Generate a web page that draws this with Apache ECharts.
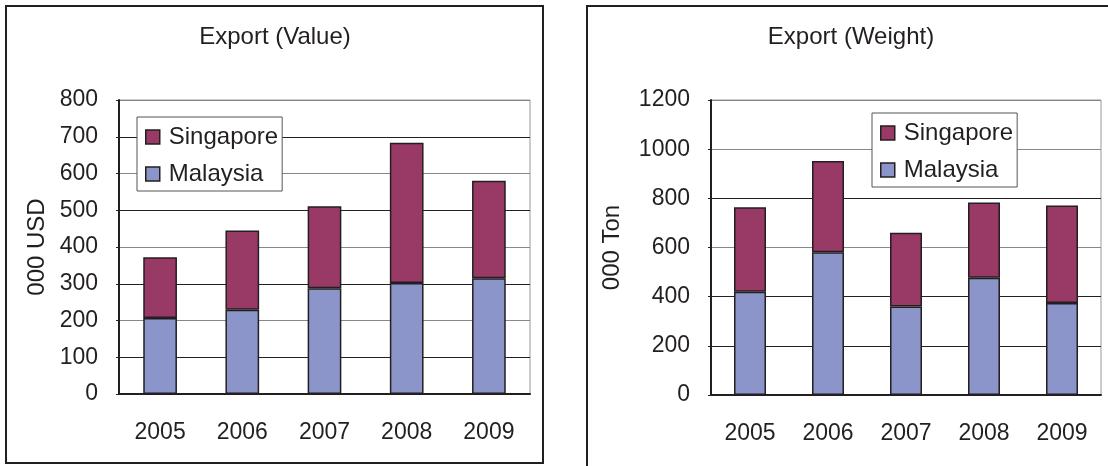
<!DOCTYPE html>
<html>
<head>
<meta charset="utf-8">
<script src="https://cdn.jsdelivr.net/npm/echarts@6/dist/echarts.min.js"></script>
<style>
  html, body { margin: 0; padding: 0; background: #fff; }
  #chart { width: 1108px; height: 466px; }
</style>
</head>
<body>
<div id="chart"></div>
<script>
const years = ['2005', '2006', '2007', '2008', '2009']

// Export (Value), 000 USD
const valueMalaysia = [207, 229, 288, 302, 315]
const valueSingapore = [165, 216, 223, 382, 265]

// Export (Weight), 000 Ton
const weightMalaysia = [420, 581, 360, 477, 374]
const weightSingapore = [344, 371, 300, 306, 397]

const ink = '#231f20'
const font = 'Liberation Sans, Arial, sans-serif'
const colSingapore = '#993966'
const colMalaysia = '#8c95c9'

const chart = echarts.init(document.getElementById('chart'), null, { renderer: 'canvas' })

function xAxisFor(idx) {
  return {
    type: 'category',
    gridIndex: idx,
    data: years,
    axisLine: { lineStyle: { color: ink, width: 2 } },
    axisTick: { inside: true, length: 7, lineStyle: { color: ink } },
    axisLabel: { color: ink, fontSize: 23, fontFamily: font, margin: 27 }
  }
}

function yAxisFor(idx, max, interval, name, nameGap, gridColors) {
  return {
    type: 'value',
    gridIndex: idx,
    min: 0,
    max: max,
    interval: interval,
    name: name,
    nameLocation: 'middle',
    nameGap: nameGap,
    nameTextStyle: { color: ink, fontSize: 24, fontFamily: font },
    axisLine: { show: true, lineStyle: { color: ink, width: 2 } },
    axisTick: { show: true, length: 3, lineStyle: { color: ink } },
    axisLabel: { color: ink, fontSize: 23, fontFamily: font, margin: 21, formatter: v => String(v) },
    splitLine: { lineStyle: { color: gridColors, width: 1 } }
  }
}

function barSeries(name, data, idx, color) {
  return {
    name: name,
    type: 'bar',
    stack: 'total' + idx,
    xAxisIndex: idx,
    yAxisIndex: idx,
    data: data,
    barWidth: '41%',
    itemStyle: { color: color, borderColor: ink, borderWidth: 1.5 }
  }
}

function legendAt(left, top) {
  return {
    orient: 'vertical',
    left: left,
    top: top,
    data: ['Singapore', 'Malaysia'],
    icon: 'rect',
    itemWidth: 14,
    itemHeight: 14,
    itemGap: 13,
    padding: [8, 4, 5, 8],
    backgroundColor: '#fff',
    borderColor: '#555',
    borderWidth: 1,
    itemStyle: { borderColor: ink, borderWidth: 1.5 },
    textStyle: { color: ink, fontSize: 24, fontFamily: font, padding: [0, 0, 0, 4] }
  }
}

chart.setOption({
  animation: false,
  title: [
    { text: 'Export (Value)', left: 270, top: 20, textAlign: 'center',
      textStyle: { color: ink, fontSize: 24, fontWeight: 'normal', fontFamily: font } },
    { text: 'Export (Weight)', left: 846, top: 20, textAlign: 'center',
      textStyle: { color: ink, fontSize: 24, fontWeight: 'normal', fontFamily: font } }
  ],
  legend: [legendAt(137, 117), legendAt(872, 113)],
  grid: [
    { left: 119, top: 100, width: 411, height: 294, show: true, borderColor: '#999', borderWidth: 1 },
    { left: 711, top: 100, width: 390, height: 295, show: true, borderColor: '#999', borderWidth: 1 }
  ],
  xAxis: [xAxisFor(0), xAxisFor(1)],
  yAxis: [
    yAxisFor(0, 800, 100, '000 USD', 70, ['#888', '#222']),
    yAxisFor(1, 1200, 200, '000 Ton', 87, ['#222', '#222', '#222', '#888', '#222', '#888', '#888'])
  ],
  series: [
    barSeries('Malaysia', valueMalaysia, 0, colMalaysia),
    barSeries('Singapore', valueSingapore, 0, colSingapore),
    barSeries('Malaysia', weightMalaysia, 1, colMalaysia),
    barSeries('Singapore', weightSingapore, 1, colSingapore)
  ],
  graphic: [
    { type: 'rect', shape: { x: 6, y: 6, width: 537, height: 457 }, z: -10,
      style: { fill: 'none', stroke: ink, lineWidth: 2 } },
    { type: 'rect', shape: { x: 587, y: 6, width: 560, height: 480 }, z: -10,
      style: { fill: 'none', stroke: ink, lineWidth: 2 } }
  ]
})
</script>
</body>
</html>
